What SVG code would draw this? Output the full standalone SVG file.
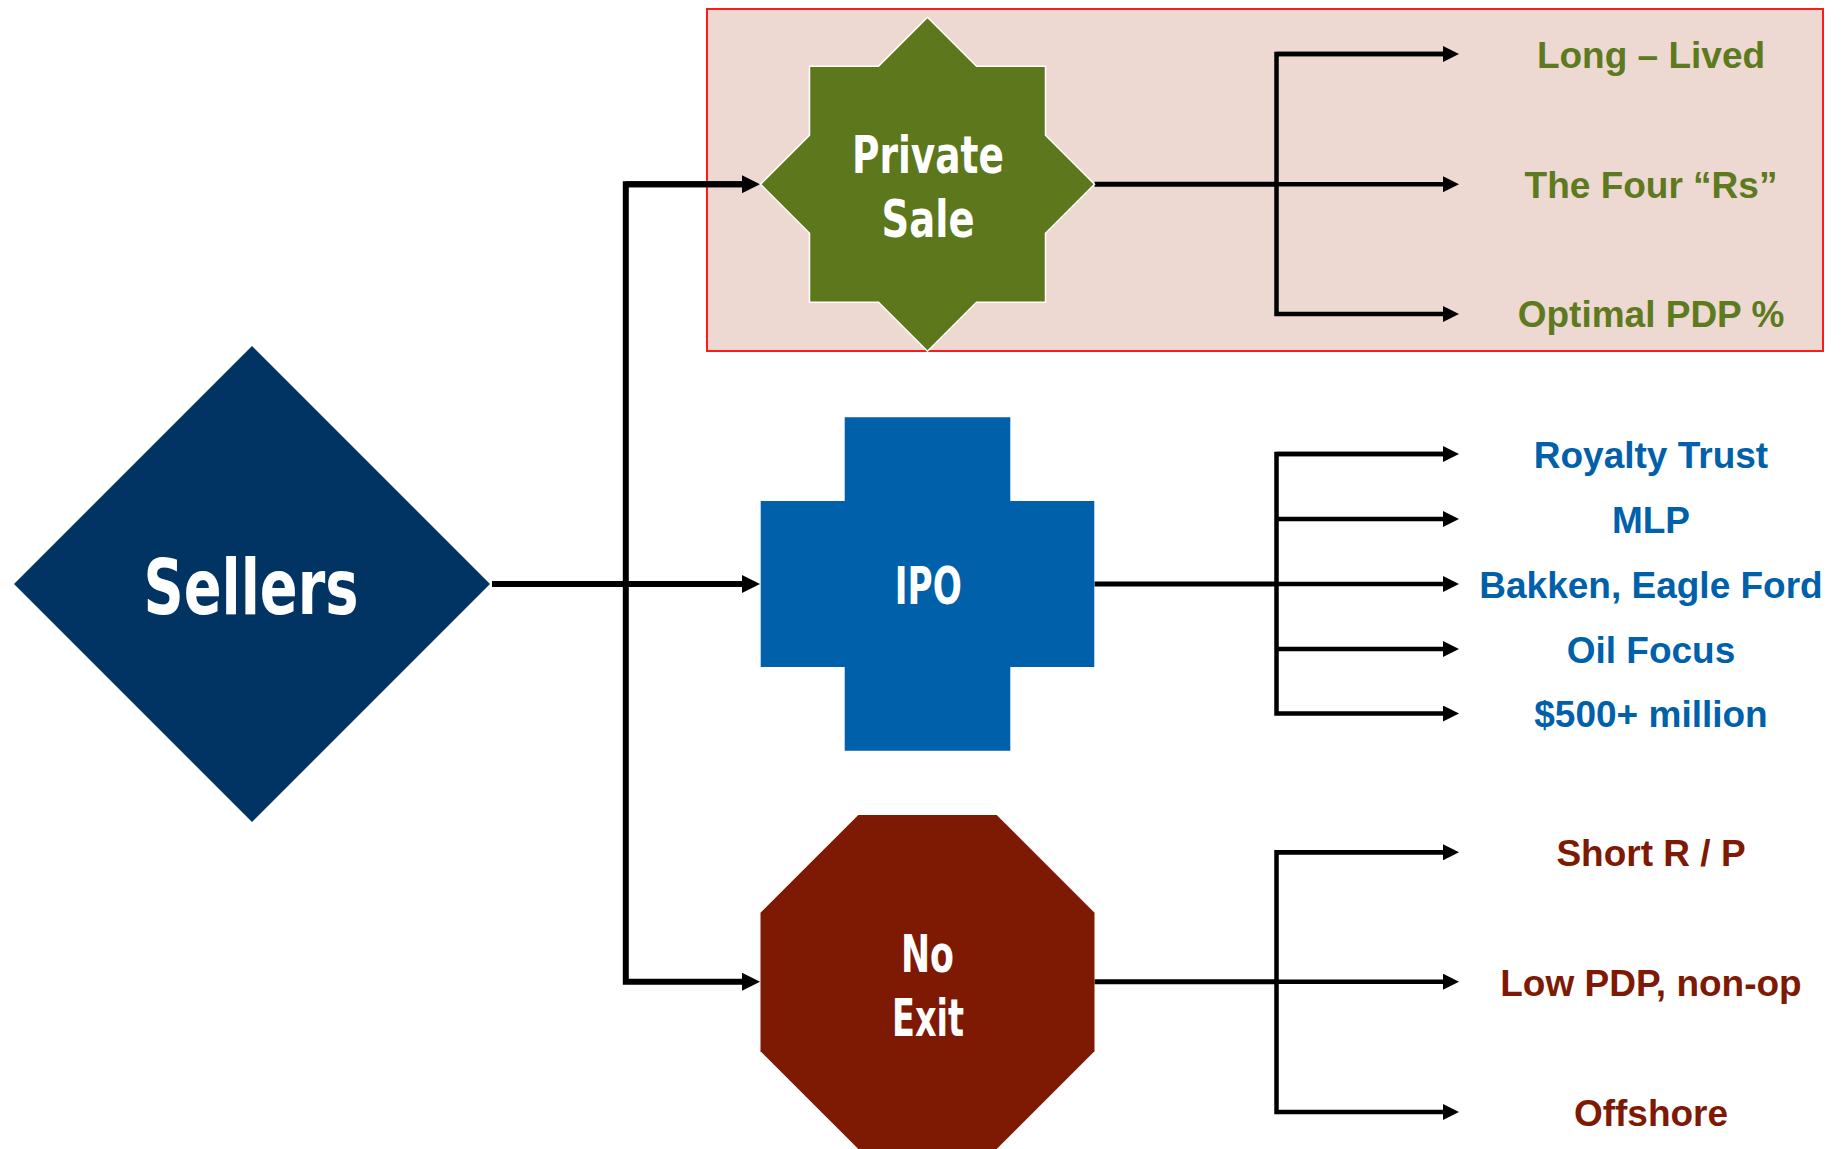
<svg xmlns="http://www.w3.org/2000/svg" width="1843" height="1149" viewBox="0 0 1843 1149">
  <style>
    .shape-label { font-family: "Liberation Sans Narrow", "DejaVu Sans Condensed", "DejaVu Sans", sans-serif; font-weight: bold; fill: #ffffff; text-anchor: middle; }
    .item { font-family: "Liberation Sans", Arial, sans-serif; font-weight: bold; font-size: 37px; text-anchor: middle; }
    .green { fill: #5E7A1E; }
    .blue { fill: #0061AA; }
    .red { fill: #7E1A03; }
    .trunk { fill: none; stroke: #000; stroke-width: 6; stroke-linejoin: miter; }
    .stub { fill: none; stroke: #000; stroke-width: 5; }
    .branch { fill: none; stroke: #000; stroke-width: 4.5; stroke-linejoin: miter; }
  </style>
  <defs>
    <marker id="headBig" markerUnits="userSpaceOnUse" markerWidth="18" markerHeight="18" viewBox="0 0 18 18" refX="0" refY="9" orient="auto">
      <path d="M0,0 L18,9 L0,18 Z" fill="#000"/>
    </marker>
    <marker id="headSmall" markerUnits="userSpaceOnUse" markerWidth="16" markerHeight="16" viewBox="0 0 16 16" refX="0" refY="8" orient="auto">
      <path d="M0,0 L16,8 L0,16 Z" fill="#000"/>
    </marker>
  </defs>

  <rect width="1843" height="1149" fill="#ffffff"/>

  <!-- highlighted band behind the private-sale route -->
  <rect id="highlight" x="707" y="9" width="1116" height="342" fill="#EDD9D2" stroke="#FF1A1A" stroke-width="2"/>

  <!-- connectors -->
  <g id="connectors">
    <!-- Sellers to the three exits -->
    <path class="trunk" d="M492,584 H742" marker-end="url(#headBig)"/>
    <path class="trunk" d="M742,184.2 H625.8 V981.7 H742" marker-end="url(#headBig)"/>
    <path class="trunk" d="M625.8,184.2 H742" marker-end="url(#headBig)"/>

    <!-- Private Sale fan-out -->
    <path class="stub" d="M1094.5,184.2 H1276.5"/>
    <path class="branch" d="M1443,54 H1276.5 V314 H1443" marker-end="url(#headSmall)"/>
    <path class="branch" d="M1276.5,54 H1443" marker-end="url(#headSmall)"/>
    <path class="branch" d="M1276.5,184.2 H1443" marker-end="url(#headSmall)"/>

    <!-- IPO fan-out -->
    <path class="stub" d="M1094.5,584 H1276.5"/>
    <path class="branch" d="M1443,454 H1276.5 V713.5 H1443" marker-end="url(#headSmall)"/>
    <path class="branch" d="M1276.5,454 H1443" marker-end="url(#headSmall)"/>
    <path class="branch" d="M1276.5,519 H1443" marker-end="url(#headSmall)"/>
    <path class="branch" d="M1276.5,584 H1443" marker-end="url(#headSmall)"/>
    <path class="branch" d="M1276.5,649 H1443" marker-end="url(#headSmall)"/>

    <!-- No Exit fan-out -->
    <path class="stub" d="M1094.5,981.7 H1276.5"/>
    <path class="branch" d="M1443,852.3 H1276.5 V1112 H1443" marker-end="url(#headSmall)"/>
    <path class="branch" d="M1276.5,852.3 H1443" marker-end="url(#headSmall)"/>
    <path class="branch" d="M1276.5,981.7 H1443" marker-end="url(#headSmall)"/>
  </g>

  <!-- Sellers -->
  <g id="sellers">
    <polygon points="252,346 490,584 252,822 14,584" fill="#023463"/>
    <text class="shape-label" x="251" y="614" font-size="76" textLength="215" lengthAdjust="spacingAndGlyphs">Sellers</text>
  </g>

  <!-- Private Sale: eight-point star -->
  <g id="private-sale">
    <polygon points="927.5,17.2 976.5,66.2 1045.5,66.2 1045.5,135.2 1094.5,184.2 1045.5,233.2 1045.5,302.2 976.5,302.2 927.5,351.2 878.5,302.2 809.5,302.2 809.5,233.2 760.5,184.2 809.5,135.2 809.5,66.2 878.5,66.2" fill="#5C771C" stroke="#ffffff" stroke-width="1.5"/>
    <text class="shape-label" x="928" y="172.7" font-size="51" textLength="152" lengthAdjust="spacingAndGlyphs">Private</text>
    <text class="shape-label" x="928" y="237" font-size="51" textLength="93" lengthAdjust="spacingAndGlyphs">Sale</text>
  </g>

  <!-- IPO: cross -->
  <g id="ipo">
    <path d="M844.7,417.3 H1010.3 V501 H1094.3 V667 H1010.3 V750.7 H844.7 V667 H760.7 V501 H844.7 Z" fill="#0061AA"/>
    <text class="shape-label" x="928.3" y="604.3" font-size="52" textLength="67" lengthAdjust="spacingAndGlyphs">IPO</text>
  </g>

  <!-- No Exit: octagon -->
  <g id="no-exit">
    <polygon points="858.3,815 996.7,815 1094.5,912.8 1094.5,1051.2 996.7,1149 858.3,1149 760.5,1051.2 760.5,912.8" fill="#7E1A03"/>
    <text class="shape-label" x="927.5" y="971.7" font-size="52" textLength="53" lengthAdjust="spacingAndGlyphs">No</text>
    <text class="shape-label" x="928" y="1035.7" font-size="52" textLength="72" lengthAdjust="spacingAndGlyphs">Exit</text>
  </g>

  <!-- outcome labels -->
  <g id="private-sale-items">
    <text class="item green" x="1651" y="67.5">Long – Lived</text>
    <text class="item green" x="1651" y="197.5">The Four “Rs”</text>
    <text class="item green" x="1651" y="327">Optimal PDP %</text>
  </g>
  <g id="ipo-items">
    <text class="item blue" x="1651" y="467.5">Royalty Trust</text>
    <text class="item blue" x="1651" y="532.5">MLP</text>
    <text class="item blue" x="1651" y="597.5">Bakken, Eagle Ford</text>
    <text class="item blue" x="1651" y="662.5">Oil Focus</text>
    <text class="item blue" x="1651" y="727">$500+ million</text>
  </g>
  <g id="no-exit-items">
    <text class="item red" x="1651" y="865.5">Short R / P</text>
    <text class="item red" x="1651" y="995.5">Low PDP, non-op</text>
    <text class="item red" x="1651" y="1125.5">Offshore</text>
  </g>
</svg>
